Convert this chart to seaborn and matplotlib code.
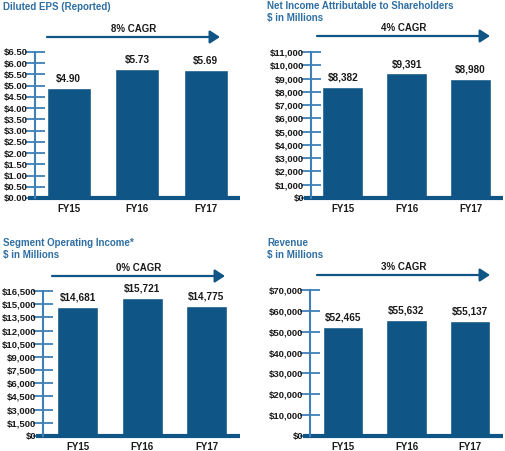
import matplotlib
matplotlib.use("Agg")
import matplotlib.pyplot as plt
import seaborn as sns
import pandas as pd
import numpy as np

years = ["FY15", "FY16", "FY17"]
eps = [4.90, 5.73, 5.69]
net_income = [8382, 9391, 8980]
segment_income = [14681, 15721, 14775]
revenue = [52465, 55632, 55137]

BAR = "#0f5585"
TITLE = "#2f6fa3"
TICK = "#3f80b8"

sns.set_theme(style="white")
plt.rcParams["font.family"] = ["Liberation Sans", "DejaVu Sans"]
plt.rcParams["font.weight"] = "bold"

W, H = 505, 451
fig = plt.figure(figsize=(W / 100, H / 100), dpi=100)


def fx(x):
    return x / W


def fy(y):
    return 1 - y / H


def panel(box, xlim, values, yticks, ylabels, vlabels, title, cagr, arrow_x, arrow_y):
    l, r, b, t = box
    ax = fig.add_axes([fx(l), fy(b), fx(r - l), fy(t) - fy(b)])
    df = pd.DataFrame({"year": years, "value": values})
    sns.barplot(data=df, x="year", y="value", color=BAR, saturation=1,
                width=0.64, ax=ax)
    ax.set_xlim(*xlim)
    ax.set_ylim(0, yticks[-1])
    ax.set_yticks(yticks)
    ax.set_yticklabels(ylabels, fontsize=6.8, fontweight="bold", color="#1a1a1a")
    ax.tick_params(axis="y", left=True, direction="inout", length=14, width=1.3,
                   color=TICK, pad=-2)
    ax.tick_params(axis="x", bottom=False, length=0, pad=4, labelsize=7,
                   labelcolor="#1a1a1a")
    for lab in ax.get_xticklabels():
        lab.set_fontweight("bold")
    ax.set_xlabel("")
    ax.set_ylabel("")
    for s in ["top", "right"]:
        ax.spines[s].set_visible(False)
    ax.spines["left"].set_color(TICK)
    ax.spines["left"].set_linewidth(1.5)
    ax.spines["bottom"].set_visible(False)
    ax.plot([-0.035, 1], [0, 0], transform=ax.transAxes, clip_on=False,
            color=BAR, lw=3, solid_capstyle="butt")
    ax.bar_label(ax.containers[0], labels=vlabels, padding=3, fontsize=7.2,
                 fontweight="bold", color="#1a1a1a")
    fig.text(fx(title[0]), fy(title[1]), title[2], ha="left", va="top",
             fontsize=7, fontweight="bold", color=TITLE, linespacing=1.2)
    fig.text(fx((arrow_x[0] + arrow_x[1]) / 2), fy(arrow_y - 8), cagr,
             ha="center", va="center", fontsize=7, fontweight="bold", color="#1a1a1a")
    fig.add_artist(matplotlib.patches.FancyArrowPatch(
        (fx(arrow_x[0]), fy(arrow_y)), (fx(arrow_x[1]), fy(arrow_y)),
        transform=fig.transFigure, arrowstyle="-|>,head_length=4,head_width=2.6",
        color=BAR, lw=1.6, mutation_scale=1.5, shrinkA=0, shrinkB=0))
    return ax


panel((35, 240, 198, 52), (-0.49, 2.5), eps,
      np.arange(0, 6.51, 0.5), [f"${v:.2f}" for v in np.arange(0, 6.51, 0.5)],
      [f"${v:.2f}" for v in eps],
      (3, 2, "Diluted EPS (Reported)"), "8% CAGR", (47, 220), 37)

ni_ticks = list(range(0, 11001, 1000))
panel((311, 503, 198, 52), (-0.5, 2.51), net_income,
      ni_ticks, [f"${v:,}" for v in ni_ticks],
      [f"${v:,}" for v in net_income],
      (267, 1, "Net Income Attributable to Shareholders\n$ in Millions"),
      "4% CAGR", (317, 490), 36)

so_ticks = list(range(0, 16501, 1500))
panel((43, 240, 436, 291), (-0.54, 2.52), segment_income,
      so_ticks, [f"${v:,}" for v in so_ticks],
      [f"${v:,}" for v in segment_income],
      (3, 238, "Segment Operating Income*\n$ in Millions"),
      "0% CAGR", (52, 225), 276)

rev_ticks = list(range(0, 70001, 10000))
panel((310, 503, 436, 290), (-0.52, 2.52), revenue,
      rev_ticks, [f"${v:,}" for v in rev_ticks],
      [f"${v:,}" for v in revenue],
      (267, 238, "Revenue\n$ in Millions"),
      "3% CAGR", (317, 490), 275)

fig.savefig("out.png", dpi=100)
